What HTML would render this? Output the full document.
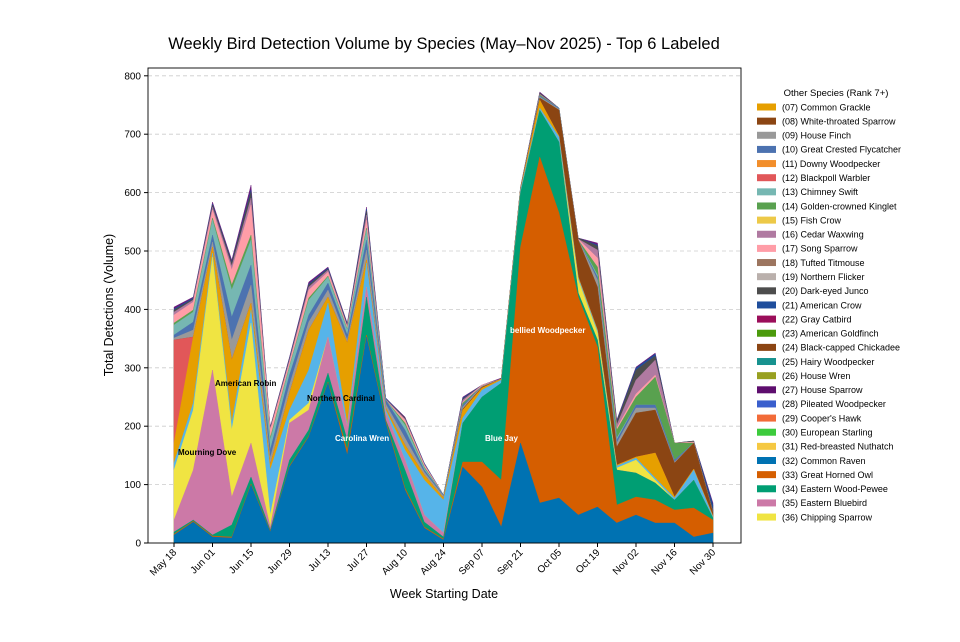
<!DOCTYPE html>
<html><head><meta charset="utf-8"><style>
body{margin:0;background:#fff;}
svg text{font-family:"Liberation Sans",sans-serif;}
</style></head><body>
<svg id="s" width="960" height="637" xmlns="http://www.w3.org/2000/svg">
<rect width="960" height="637" fill="#fff"/>
<text x="444" y="49" font-size="16.5" text-anchor="middle" fill="#000">Weekly Bird Detection Volume by Species (May–Nov 2025) - Top 6 Labeled</text>
<g id="grid" stroke="#ccc" stroke-dasharray="4,3" stroke-width="0.8"></g>
<g id="areas"></g>
<g font-size="8" font-weight="bold">
<text x="178" y="455" fill="#000">Mourning Dove</text>
<text x="215" y="386" fill="#000">American Robin</text>
<text x="307" y="401" fill="#000">Northern Cardinal</text>
<text x="335" y="441" fill="#fff">Carolina Wren</text>
<text x="485" y="441" fill="#fff">Blue Jay</text>
<text x="510" y="333" fill="#fff">bellied Woodpecker</text>
</g>
<rect x="148" y="68" width="593" height="475" fill="none" stroke="#000" stroke-width="0.9"/>
<g id="ticks" font-size="10"></g>
<text x="444" y="598" font-size="12.5" text-anchor="middle">Week Starting Date</text>
<text transform="translate(113,305) rotate(-90)" font-size="12.5" text-anchor="middle">Total Detections (Volume)</text>
<g id="legend" font-size="9"></g>
</svg>
<script>
var NS="http://www.w3.org/2000/svg";
function el(p,t,a,txt){var e=document.createElementNS(NS,t);for(var k in a)e.setAttribute(k,a[k]);if(txt!=null)e.textContent=txt;p.appendChild(e);return e;}
var X=[];for(var i=0;i<29;i++)X.push(174+19.25*i);
function Y(v){return 543-0.584*v;}
var g=document.getElementById('grid');
for(var v=100;v<=800;v+=100)el(g,'line',{x1:148,x2:741,y1:Y(v),y2:Y(v)});
var t=document.getElementById('ticks');
for(var v=0;v<=800;v+=100){el(t,'line',{x1:144,x2:148,y1:Y(v),y2:Y(v),stroke:'#000'});el(t,'text',{x:141,y:Y(v)+3.5,'text-anchor':'end'},String(v));}
var lab=["May 18","Jun 01","Jun 15","Jun 29","Jul 13","Jul 27","Aug 10","Aug 24","Sep 07","Sep 21","Oct 05","Oct 19","Nov 02","Nov 16","Nov 30"];
for(var j=0;j<15;j++){var x=X[2*j];el(t,'line',{x1:x,x2:x,y1:543,y2:547,stroke:'#000'});
el(t,'text',{transform:'translate('+(x+3)+',553) rotate(-45)','text-anchor':'end'},lab[j]);}
var sp=function(a,b){return a.concat(b);};
var L=[
['#0072b2',[535,522,537,538,485,532,467,437,383,455,337,423,490,528,540,467,487,527,443,503,498,515,507,523,515,523,523,537,533]],
['#d55e00',[534,521,536,537,484,531,466,436,382,450,335,421,488,527,539,462,462,480,247,157,213,297,347,505,497,500,510,508,520]],
['#009e73',[532,520,535,525,477,530,460,430,373,440,297,420,470,522,537,423,397,383,193,110,142,293,340,470,473,483,500,480,518]],
['#cc79a7',[520,470,370,497,443,527,423,410,337,427,287,413,460,515,533,423,397,383,193,110,142,293,340,470,473,483,500,480,518]],
['#f0e442',[470,410,257,430,323,515,420,403,337,427,287,413,460,515,533,423,397,383,193,110,142,280,333,468,460,480,500,480,518]],
['#56b4e9',[463,403,253,423,310,470,410,370,303,425,263,410,450,480,500,418,390,380,190,108,137,278,331,466,458,478,498,470,517]],
['#e69f00',[443,337,247,360,303,465,393,330,297,343,260,408,445,475,498,410,388,379,189,100,136,277,330,465,457,453,497,469,516]],
['#e15759',[340,337,247,360,303,465,393,330,297,343,260,408,445,475,498,410,388,379,189,100,136,277,330,465,457,453,497,469,516]],
['#8b4513',[340,337,247,360,303,465,393,330,297,343,260,408,445,475,498,409,387,379,188,98,110,240,287,447,413,410,463,443,513]],
['#999999',[338,330,242,340,285,458,385,322,290,340,250,404,438,472,496,407,386,379,188,97,109,240,280,443,408,408,462,443,513]],
['#4c72b0',[335,322,235,317,265,450,375,315,283,335,240,400,430,470,495,405,386,379,188,96,108,240,277,440,405,405,460,443,513]],
['#76b7b2',[325,312,220,290,240,440,367,300,277,330,230,400,425,468,495,405,386,379,188,96,108,240,275,438,405,405,460,443,513]],
['#59a14f',[323,310,218,285,235,438,366,298,276,329,228,400,423,467,495,403,386,379,188,95,108,240,267,430,397,377,443,443,513]],
['#ff9da7',[315,302,210,270,205,430,362,290,272,327,220,400,420,465,495,402,385,379,188,95,108,239,258,428,394,375,443,442,513]],
['#b07aa1',[312,300,207,266,198,429,360,287,270,326,215,399,419,464,495,400,385,379,188,94,108,239,250,425,380,360,443,442,512]],
['#4d4d4d',[310,299,205,263,192,428,359,285,269,325,211,399,418,464,495,399,385,379,188,93,108,238,246,422,370,356,443,441,510]],
['#1f4e9c',[309,298,204,262,190,428,358,284,268,324,209,398,418,463,495,398,385,379,188,93,108,238,245,421,368,354,443,441,505]],
['#6a1b7a',[307,297,202,260,185,427,357,282,267,323,207,398,417,463,495,397,385,378,187,92,108,238,243,420,367,353,443,441,503]]
];
var a=document.getElementById('areas');
var prev=null;
for(var k=0;k<L.length;k++){var ys=L[k][1];if(prev){for(var i=0;i<29;i++)ys[i]=Math.min(ys[i],prev[i]);}prev=ys;}
for(var k=L.length-1;k>=0;k--){var ys=L[k][1];var pts=X[0]+',543 ';for(var i=0;i<29;i++)pts+=X[i]+','+ys[i]+' ';pts+=X[28]+',543';
el(a,'polygon',{points:pts,fill:L[k][0],stroke:L[k][0],'stroke-width':0.4});}
var lg=[["(07) Common Grackle","#e69f00"],["(08) White-throated Sparrow","#8b4513"],["(09) House Finch","#999999"],["(10) Great Crested Flycatcher","#4c72b0"],["(11) Downy Woodpecker","#f28e2b"],["(12) Blackpoll Warbler","#e15759"],["(13) Chimney Swift","#76b7b2"],["(14) Golden-crowned Kinglet","#59a14f"],["(15) Fish Crow","#edc948"],["(16) Cedar Waxwing","#b07aa1"],["(17) Song Sparrow","#ff9da7"],["(18) Tufted Titmouse","#9c755f"],["(19) Northern Flicker","#bab0ac"],["(20) Dark-eyed Junco","#4d4d4d"],["(21) American Crow","#1f4e9c"],["(22) Gray Catbird","#9b0e5a"],["(23) American Goldfinch","#4b9a0c"],["(24) Black-capped Chickadee","#8b4513"],["(25) Hairy Woodpecker","#17928f"],["(26) House Wren","#98a020"],["(27) House Sparrow","#5e0e6e"],["(28) Pileated Woodpecker","#3a5fcd"],["(29) Cooper's Hawk","#f26b38"],["(30) European Starling","#3ccb3c"],["(31) Red-breasted Nuthatch","#f5c842"],["(32) Common Raven","#0072b2"],["(33) Great Horned Owl","#d55e00"],["(34) Eastern Wood-Pewee","#009e73"],["(35) Eastern Bluebird","#cc79a7"],["(36) Chipping Sparrow","#f0e442"]];
var l=document.getElementById('legend');
el(l,'text',{x:836,y:96,'text-anchor':'middle','font-size':'9.5'},"Other Species (Rank 7+)");
for(var i=0;i<lg.length;i++){var y=107+14.14*i;el(l,'rect',{x:757,y:y-3.5,width:19,height:7,fill:lg[i][1]});el(l,'text',{x:782,y:y+3.3},lg[i][0]);}
</script>
</body></html>
